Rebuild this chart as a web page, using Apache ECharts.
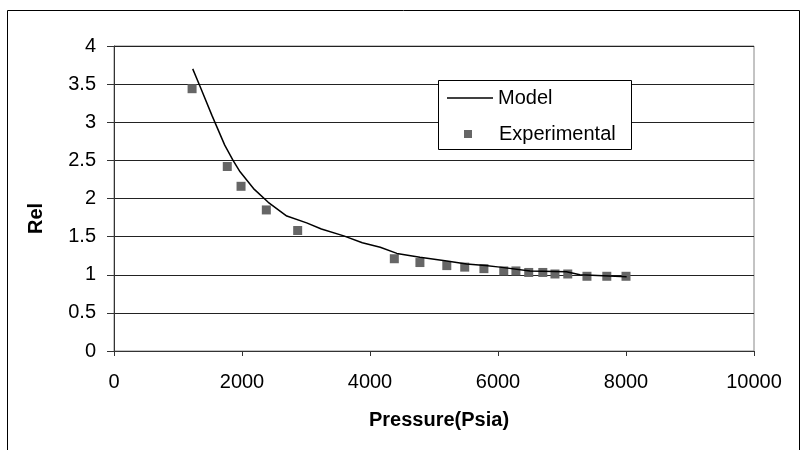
<!DOCTYPE html>
<html>
<head>
<meta charset="utf-8">
<script src="https://cdn.jsdelivr.net/npm/echarts@6/dist/echarts.min.js"></script>
<style>
  html, body { margin: 0; padding: 0; background: #fff; }
  #main { width: 808px; height: 450px; }
</style>
</head>
<body>
<div id="main"></div>
<script>
// experimental points
const expPressure = [1220, 1770, 1985, 2380, 2870, 4380, 4780, 5200, 5480, 5780, 6090, 6280, 6480, 6700, 6890, 7090, 7390, 7700, 8000];
const expRel = [3.44, 2.42, 2.16, 1.85, 1.58, 1.21, 1.16, 1.12, 1.10, 1.08, 1.05, 1.05, 1.03, 1.03, 1.01, 1.01, 0.98, 0.98, 0.98];

// model curve
const modelPressure = [1230, 1350, 1530, 1730, 1860, 1970, 2180, 2410, 2700, 3010, 3240, 3590, 3880, 4160, 4420, 4780, 5200, 5510, 5800, 6030, 6500, 7070, 7280, 8010];
const modelRel = [3.70, 3.46, 3.09, 2.70, 2.50, 2.35, 2.13, 1.95, 1.77, 1.68, 1.60, 1.51, 1.42, 1.36, 1.28, 1.23, 1.18, 1.14, 1.12, 1.10, 1.05, 1.04, 1.00, 0.975];

const xTicks = [0, 2000, 4000, 6000, 8000, 10000];
const yTicks = [0, 0.5, 1, 1.5, 2, 2.5, 3, 3.5, 4];

const font = "'Liberation Sans', Arial, sans-serif";

let chartDom = document.getElementById("main");
let myChart = echarts.init(chartDom);

let option = {
  animation: false,
  backgroundColor: "#fff",
  textStyle: { fontFamily: font },
  graphic: [
    {
      type: "rect",
      shape: { x: 7.5, y: 10.5, width: 792, height: 460 },
      style: { fill: "none", stroke: "#000", lineWidth: 1 },
      silent: true,
    },
    {
      type: "rect",
      shape: { x: 438.5, y: 80.5, width: 193, height: 69 },
      style: { fill: "#fff", stroke: "#000", lineWidth: 1 },
      z: 10,
      silent: true,
    },
  ],
  legend: [
    {
      data: [{ name: "Model", icon: "path://M0,0h46v1.5h-46z" }],
      left: 447,
      top: 88,
      padding: 0,
      itemWidth: 46,
      itemHeight: 20,
      z: 20,
      textStyle: { fontFamily: font, fontSize: 20, color: "#000" },
    },
    {
      data: [{ name: "Experimental", icon: "rect" }],
      left: 464,
      top: 124,
      padding: 0,
      itemWidth: 8,
      itemHeight: 8,
      z: 20,
      itemStyle: { opacity: 1 },
      textStyle: { fontFamily: font, fontSize: 20, color: "#000", padding: [0, 0, 0, 22] },
    },
  ],
  grid: {
    left: 114,
    right: 54,
    top: 46,
    bottom: 99,
    show: true,
    borderColor: "#888",
    borderWidth: 1,
  },
  xAxis: {
    type: "value",
    min: xTicks[0],
    max: xTicks[xTicks.length - 1],
    interval: 2000,
    name: "Pressure(Psia)",
    nameLocation: "middle",
    nameGap: 59,
    nameTextStyle: { fontFamily: font, fontSize: 20, fontWeight: "bold", color: "#000", padding: [0, 0, 0, 10] },
    axisLine: { show: true, lineStyle: { color: "#333", width: 1 } },
    axisTick: { show: true, length: 5, lineStyle: { color: "#333" } },
    axisLabel: {
      fontFamily: font,
      fontSize: 20,
      color: "#000",
      margin: 21,
      formatter: (v) => String(v),
    },
    splitLine: { show: false },
  },
  yAxis: {
    type: "value",
    min: yTicks[0],
    max: yTicks[yTicks.length - 1],
    interval: 0.5,
    name: "Rel",
    nameLocation: "middle",
    nameGap: 68,
    nameTextStyle: { fontFamily: font, fontSize: 20, fontWeight: "bold", color: "#000", padding: [0, 40, 0, 0] },
    axisLine: { show: true, lineStyle: { color: "#333", width: 1 } },
    axisTick: { show: true, length: 7, lineStyle: { color: "#333" } },
    axisLabel: { fontFamily: font, fontSize: 20, color: "#000", margin: 18 },
    splitLine: { show: true, lineStyle: { color: "#222", width: 1 } },
  },
  series: [
    {
      name: "Model",
      type: "line",
      symbol: "none",
      smooth: false,
      lineStyle: { color: "#000", width: 1.5 },
      itemStyle: { color: "#000" },
      data: modelPressure.map((p, i) => [p, modelRel[i]]),
      z: 3,
    },
    {
      name: "Experimental",
      type: "scatter",
      symbol: "rect",
      symbolSize: 9,
      itemStyle: { color: "#666", opacity: 1 },
      data: expPressure.map((p, i) => [p, expRel[i]]),
      z: 2,
    },
  ],
};

option && myChart.setOption(option);
</script>
</body>
</html>
